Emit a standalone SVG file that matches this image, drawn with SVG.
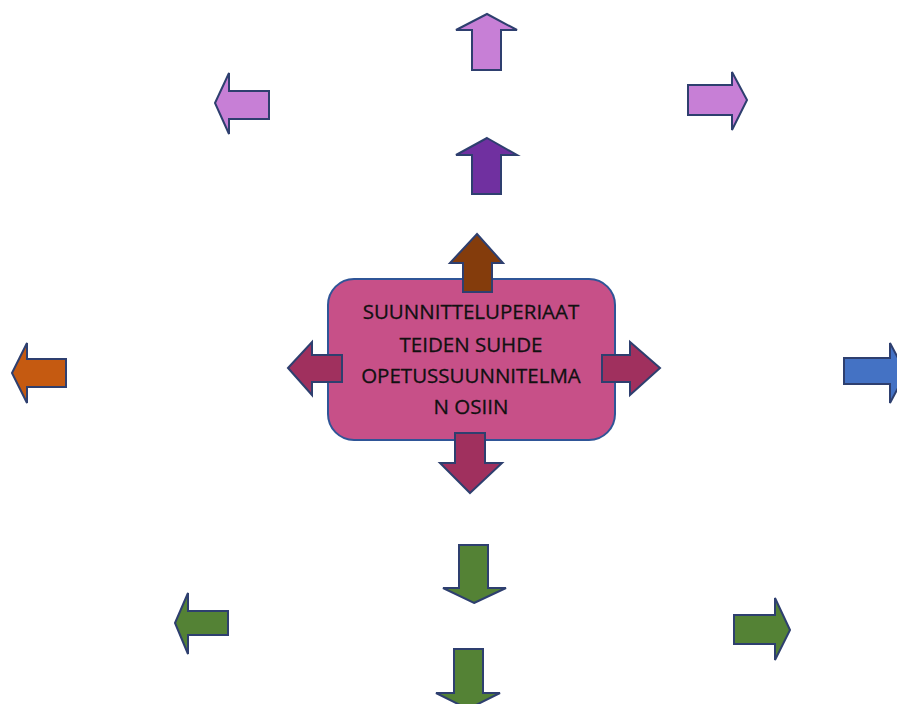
<svg xmlns="http://www.w3.org/2000/svg" width="897" height="704" viewBox="0 0 897 704">
<style>
.a{stroke:#2E3F6F;stroke-width:2;stroke-linejoin:miter}
.lav{fill:#C77FD6}
.pur{fill:#7030A0}
.brn{fill:#843C0C}
.mag{fill:#A0305E}
.org{fill:#C55A11}
.blu{fill:#4472C4}
.grn{fill:#548235}
.box{fill:#C75088;stroke:#2F5597;stroke-width:2}
.t{font-family:"Open Sans","Liberation Sans",sans-serif;font-size:20.5px;fill:#111111;text-anchor:middle;stroke:#111111;stroke-width:0.3}
</style>
<rect width="897" height="704" fill="#ffffff"/>
<g id="center-box">
<rect class="box" x="328" y="279" width="287" height="161" rx="26" ry="26"/>
<text class="t" x="471" y="319">SUUNNITTELUPERIAAT</text>
<text class="t" x="471" y="352">TEIDEN SUHDE</text>
<text class="t" x="471" y="383">OPETUSSUUNNITELMA</text>
<text class="t" x="471" y="414">N OSIIN</text>
</g>
<g id="connectors">
<g id="arrow-center-up"><polygon class="a brn" points="477,234 503,263 492,263 492,292 463,292 463,263 450,263"/></g>
<g id="arrow-center-right"><polygon class="a mag" points="660,368 630,342 630,355 602,355 602,382 630,382 630,395"/></g>
<g id="arrow-center-left"><polygon class="a mag" points="288,368 312,342 312,355 342,355 342,382 312,382 312,395"/></g>
<g id="arrow-center-down"><polygon class="a mag" points="470,493 502,463 485,463 485,433 455,433 455,463 440,463"/></g>
</g>
<g id="arrow-top"><polygon class="a lav" points="487,14 517,30 501,30 501,70 472,70 472,30 456,30"/></g>
<g id="arrow-upper-mid"><polygon class="a pur" points="487,138 517,155 501,155 501,194 472,194 472,155 456,155"/></g>
<g id="arrow-upper-left"><polygon class="a lav" points="215,103 229,73 229,91 269,91 269,119 229,119 229,134"/></g>
<g id="arrow-upper-right"><polygon class="a lav" points="747,100 732,72 732,85 688,85 688,115 732,115 732,130"/></g>
<g id="arrow-left"><polygon class="a org" points="12,373 27,343 27,359 66,359 66,387 27,387 27,403"/></g>
<g id="arrow-right"><polygon class="a blu" points="906,373 890,343 890,358 844,358 844,384 890,384 890,403"/></g>
<g id="arrow-lower-mid"><polygon class="a grn" points="474,603 506,588 488,588 488,545 459,545 459,588 443,588"/></g>
<g id="arrow-bottom"><polygon class="a grn" points="468,709 500,693 483,693 483,649 454,649 454,693 436,693"/></g>
<g id="arrow-lower-left"><polygon class="a grn" points="175,623 188,593 188,611 228,611 228,635 188,635 188,654"/></g>
<g id="arrow-lower-right"><polygon class="a grn" points="790,630 775,598 775,615 734,615 734,644 775,644 775,660"/></g>
</svg>
